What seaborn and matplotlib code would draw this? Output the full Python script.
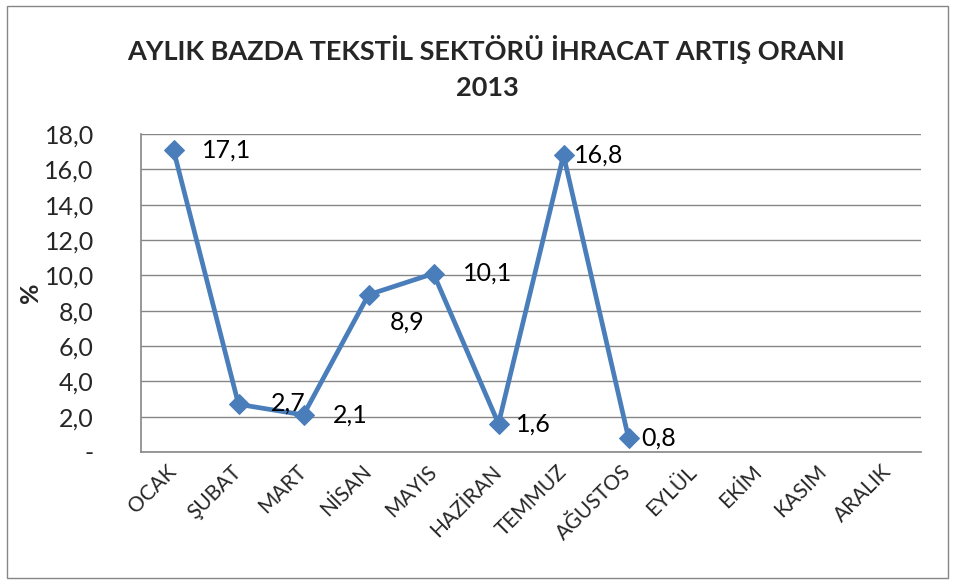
import matplotlib
matplotlib.use("Agg")
import matplotlib.pyplot as plt
import seaborn as sns
import pandas as pd
from matplotlib.patches import Rectangle

months = ["OCAK", "ŞUBAT", "MART", "NİSAN", "MAYIS", "HAZİRAN",
          "TEMMUZ", "AĞUSTOS", "EYLÜL", "EKİM", "KASIM", "ARALIK"]
values = [17.1, 2.7, 2.1, 8.9, 10.1, 1.6, 16.8, 0.8]
value_labels = ["17,1", "2,7", "2,1", "8,9", "10,1", "1,6", "16,8", "0,8"]
yticks = [0, 2, 4, 6, 8, 10, 12, 14, 16, 18]
ytick_labels = ["-", "2,0", "4,0", "6,0", "8,0", "10,0", "12,0", "14,0", "16,0", "18,0"]
# label offsets in points (dx, dy)
label_offsets = [(38, 0), (36, 1), (34, 0), (28, -20), (39, 0), (25, 0), (25, 0), (22, 0)]

sns.set_theme(style="white")
plt.rcParams['font.family'] = ['Lato', 'DejaVu Sans']

fig = plt.figure(figsize=(9.56, 5.84), dpi=100)
ax = fig.add_axes([141/956, 1 - 452/584, (921-141)/956, (452-134)/584])

df = pd.DataFrame({"idx": list(range(len(values))), "val": values})
blue = "#4A7EBB"
sns.lineplot(data=df, x="idx", y="val", ax=ax, color=blue, linewidth=3.4,
             marker="D", markersize=10, markeredgecolor=blue, markerfacecolor=blue)

grid_c = "#868686"
ax.set_ylim(0, 18)
ax.set_xlim(-0.5, len(months) - 0.5)
ax.set_yticks(yticks)
ax.set_yticklabels(ytick_labels, fontsize=18)
ax.yaxis.grid(True, color=grid_c, linewidth=1)
ax.set_axisbelow(True)

ax.set_xticks(range(len(months)))
ax.set_xticklabels(months, rotation=45, ha="right", va="center", rotation_mode="anchor", fontsize=15)
ax.tick_params(axis="x", which="major", length=0, pad=12)
ax.set_xticks([i - 0.5 for i in range(len(months) + 1)], minor=True)
ax.tick_params(axis="x", which="minor", length=5, color=grid_c, width=1)
ax.tick_params(axis="y", which="major", length=6, color=grid_c, width=1, pad=28)

for s in ["top", "right"]:
    ax.spines[s].set_visible(False)
for s in ["left", "bottom"]:
    ax.spines[s].set_color(grid_c)
    ax.spines[s].set_linewidth(1.2)

ax.set_xlabel("")
ax.set_ylabel("%", fontsize=18, fontweight="bold", labelpad=2)

for i, (v, lab) in enumerate(zip(values, value_labels)):
    dx, dy = label_offsets[i]
    ax.annotate(lab, (i, v), xytext=(dx, dy), textcoords="offset points",
                ha="center", va="center", fontsize=18, color="black")

fig.text(0.508, 1 - 50/584, "AYLIK BAZDA TEKSTİL SEKTÖRÜ İHRACAT ARTIŞ ORANI",
         ha="center", va="center", fontsize=19.5, fontweight="bold")
fig.text(0.51, 1 - 88/584, "2013", ha="center", va="center", fontsize=19.5, fontweight="bold")

fig.patches.append(Rectangle((7/956, 6/584), 941/956, 572/584, transform=fig.transFigure,
                             fill=False, edgecolor="#868686", linewidth=1))

fig.savefig("out.png", dpi=100)
